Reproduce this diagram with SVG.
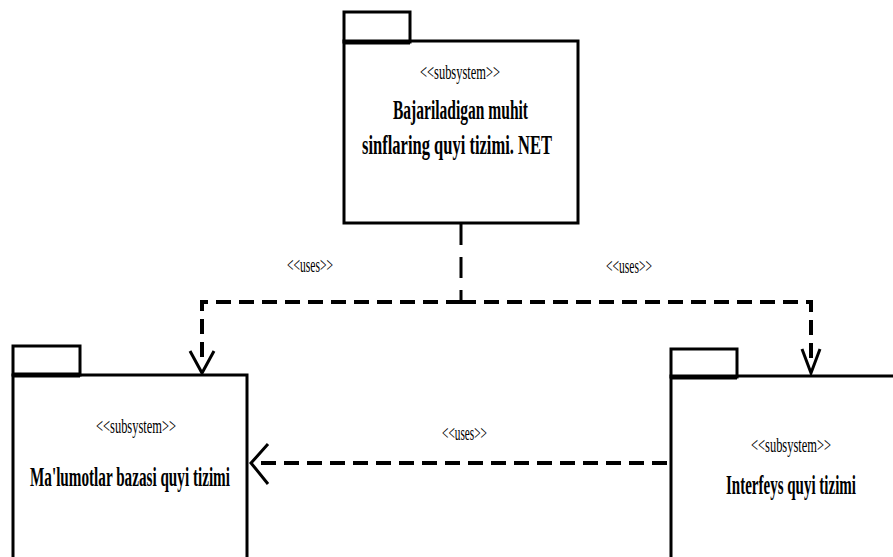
<svg xmlns="http://www.w3.org/2000/svg" width="893" height="557" viewBox="0 0 893 557">
  <style>
    .pk { fill: #fff; stroke: #000; stroke-width: 3; }
    .tabline { stroke: #000; stroke-width: 5; }
    .st { font-family: "Liberation Serif", "Times New Roman", serif; font-size: 20px; fill: #000; }
    .tt { font-family: "Liberation Serif", "Times New Roman", serif; font-size: 28px; font-weight: bold; fill: #000; }
    .dep { fill: none; stroke: #000; stroke-width: 4; stroke-dasharray: 15 8; }
    .depv { fill: none; stroke: #000; stroke-width: 3; stroke-dasharray: 21 12; }
    .head { fill: none; stroke: #000; stroke-width: 3; stroke-linejoin: miter; }
  </style>
  <rect width="893" height="557" fill="#fff"/>

  <g id="connectors">
    <path class="depv" d="M461,224 L461,302"/>
    <path class="dep" d="M461,302 L202,302 L202,360"/>
    <path class="dep" d="M461,302 L811,302 L811,360"/>
    <polyline class="head" points="190,351 202,373 214,351"/>
    <polyline class="head" points="802,349 811,373 820,349"/>
    <path class="dep" d="M667,463 L255,463"/>
    <polyline class="head" points="268,444 251,463 268,484"/>
    <text class="st" transform="translate(287,272) scale(0.75,1)" textLength="61.3" lengthAdjust="spacingAndGlyphs">&lt;&lt;uses&gt;&gt;</text>
    <text class="st" transform="translate(606,273) scale(0.75,1)" textLength="61.3" lengthAdjust="spacingAndGlyphs">&lt;&lt;uses&gt;&gt;</text>
    <text class="st" transform="translate(442,440) scale(0.75,1)" textLength="60" lengthAdjust="spacingAndGlyphs">&lt;&lt;uses&gt;&gt;</text>
  </g>

  <g id="net-subsystem">
    <rect class="pk" x="344" y="41" width="234" height="182"/>
    <rect class="pk" x="344" y="12" width="66" height="30"/>
    <line class="tabline" x1="344" y1="42" x2="410" y2="42"/>
    <text class="st" transform="translate(420,79) scale(0.75,1)" textLength="106.7" lengthAdjust="spacingAndGlyphs">&lt;&lt;subsystem&gt;&gt;</text>
    <text class="tt" transform="translate(393,119) scale(0.65,1)" textLength="207.7" lengthAdjust="spacingAndGlyphs">Bajariladigan muhit</text>
    <text class="tt" transform="translate(362,154) scale(0.65,1)" textLength="292.3" lengthAdjust="spacingAndGlyphs">sinflaring quyi tizimi. NET</text>
  </g>

  <g id="db-subsystem">
    <rect class="pk" x="13" y="375" width="234" height="200"/>
    <rect class="pk" x="13" y="346" width="67" height="29"/>
    <line class="tabline" x1="13" y1="375" x2="80" y2="375"/>
    <text class="st" transform="translate(96,433) scale(0.75,1)" textLength="106.7" lengthAdjust="spacingAndGlyphs">&lt;&lt;subsystem&gt;&gt;</text>
    <text class="tt" transform="translate(30,486) scale(0.55,1)" textLength="363.6" lengthAdjust="spacingAndGlyphs">Ma'lumotlar bazasi quyi tizimi</text>
  </g>

  <g id="ui-subsystem">
    <rect class="pk" x="671" y="376" width="240" height="200"/>
    <rect class="pk" x="671" y="349" width="66" height="28"/>
    <line class="tabline" x1="671" y1="377" x2="737" y2="377"/>
    <text class="st" transform="translate(751,452) scale(0.75,1)" textLength="106.7" lengthAdjust="spacingAndGlyphs">&lt;&lt;subsystem&gt;&gt;</text>
    <text class="tt" transform="translate(726,494) scale(0.55,1)" textLength="236.4" lengthAdjust="spacingAndGlyphs">Interfeys quyi tizimi</text>
  </g>
</svg>
